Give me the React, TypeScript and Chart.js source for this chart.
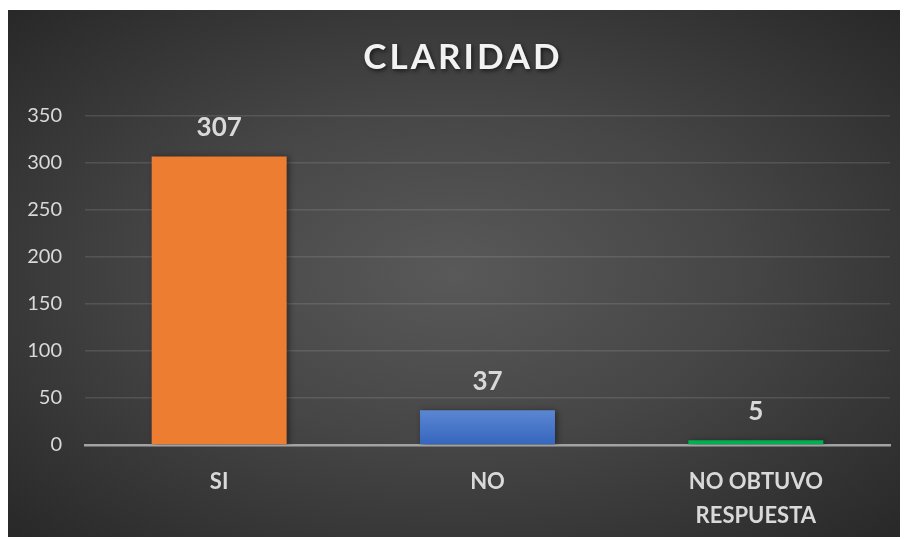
import React, { useEffect, useRef } from "react";
import { Chart, registerables } from "chart.js";

Chart.register(...registerables);

const titleText = "CLARIDAD";
const categories: (string | string[])[] = ["SI", "NO", ["NO OBTUVO", "RESPUESTA"]];
const values = [307, 37, 5];
const barColors = ["#ED7D31", "#4472C4", "#00B050"];
const yTicks = [0, 50, 100, 150, 200, 250, 300, 350];

const FONT = "Lato, 'Open Sans', sans-serif";

export default function App() {
  const ref = useRef<HTMLCanvasElement | null>(null);

  useEffect(() => {
    const canvas = ref.current;
    if (!canvas) return;

    const titlePlugin = {
      id: "customTitle",
      afterDraw(chart: any) {
        const ctx = chart.ctx as CanvasRenderingContext2D;
        ctx.save();
        ctx.font = `bold 35px ${FONT}`;
        (ctx as any).letterSpacing = "3px";
        ctx.textAlign = "center";
        ctx.textBaseline = "middle";
        ctx.shadowColor = "rgba(0,0,0,0.6)";
        ctx.shadowBlur = 4;
        ctx.shadowOffsetX = 1.5;
        ctx.shadowOffsetY = 2;
        ctx.fillStyle = "#f2f2f2";
        ctx.fillText(titleText, 455, 48);
        ctx.restore();
      },
    };

    const shadowPlugin = {
      id: "barShadow",
      beforeDatasetsDraw(chart: any) {
        const ctx = chart.ctx as CanvasRenderingContext2D;
        ctx.save();
        ctx.shadowColor = "rgba(0,0,0,0.45)";
        ctx.shadowBlur = 6;
        ctx.shadowOffsetX = 2;
        ctx.shadowOffsetY = 1;
      },
      afterDatasetsDraw(chart: any) {
        chart.ctx.restore();
      },
    };

    const labelPlugin = {
      id: "valueLabels",
      afterDatasetsDraw(chart: any) {
        const ctx = chart.ctx as CanvasRenderingContext2D;
        const meta = chart.getDatasetMeta(0);
        ctx.save();
        ctx.font = `bold 26px ${FONT}`;
        ctx.fillStyle = "#d9d9d9";
        ctx.textAlign = "center";
        ctx.textBaseline = "middle";
        meta.data.forEach((bar: any, i: number) => {
          ctx.fillText(String(values[i]), bar.x, bar.y - 29);
        });
        ctx.restore();
      },
    };

    const chart = new Chart(canvas, {
      type: "bar",
      data: {
        labels: categories,
        datasets: [
          {
            data: values,
            backgroundColor: (c: any) => {
              const i = c.dataIndex;
              if (i === 1 && c.chart.chartArea) {
                const { bottom } = c.chart.chartArea;
                const y0 = c.chart.scales.y.getPixelForValue(values[1]);
                const g = c.chart.ctx.createLinearGradient(0, y0, 0, bottom);
                g.addColorStop(0, "#5b86d2");
                g.addColorStop(1, "#3566be");
                return g;
              }
              return barColors[i];
            },
            borderWidth: 0,
            categoryPercentage: 1,
            barPercentage: 0.503,
          },
        ],
      },
      options: {
        responsive: false,
        animation: false,
        layout: { padding: { top: 106, right: 10, left: 0, bottom: 0 } },
        plugins: {
          legend: { display: false },
          title: { display: false },
          tooltip: { enabled: false },
        },
        scales: {
          x: {
            z: 1,
            grid: { display: false },
            border: { display: true, color: "#a3a3a3", width: 2.5 },
            ticks: {
              color: "#d9d9d9",
              font: { family: FONT, size: 22, weight: "bold", lineHeight: 1.53 },
              padding: 12,
              maxRotation: 0,
              autoSkip: false,
            },
            afterFit: (s: any) => {
              s.height = 92;
            },
          },
          y: {
            min: 0,
            max: 350,
            afterBuildTicks: (s: any) => {
              s.ticks = yTicks.map((v) => ({ value: v }));
            },
            grid: {
              color: "rgba(200,200,200,0.16)",
              lineWidth: 1.5,
              drawTicks: false,
            },
            border: { display: false },
            ticks: {
              color: "#d9d9d9",
              font: { family: FONT, size: 20 },
              padding: 23,
            },
            afterFit: (s: any) => {
              s.width = 77;
            },
          },
        },
      },
      plugins: [shadowPlugin, labelPlugin, titlePlugin],
    } as any);

    return () => chart.destroy();
  }, []);

  return (
    <div
      style={{
        marginTop: 2,
        width: 892,
        height: 527,
        background:
          "radial-gradient(ellipse at 50% 50%, #595959 0%, #464646 45%, #282828 100%)",
      }}
    >
      <canvas ref={ref} width={892} height={527} style={{ display: "block" }} />
    </div>
  );
}
